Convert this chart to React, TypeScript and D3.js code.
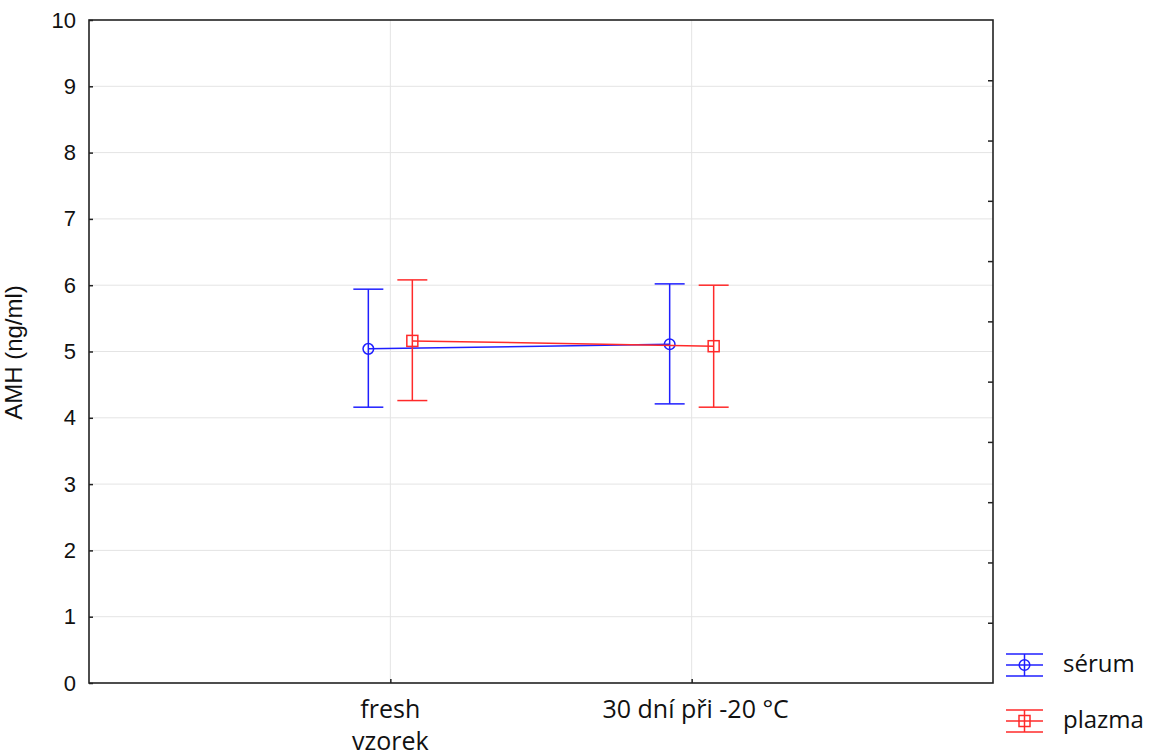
import { useEffect, useRef } from 'react';
import * as d3 from 'd3';

// category labels (multi-line)
const categories = ['fresh', '30dni'];
const categoryLines = [['fresh', 'vzorek'], ['30 dní při -20 °C']];

// means with error bar bounds
const serumMean = [5.04, 5.11];
const serumLow = [4.16, 4.21];
const serumHigh = [5.94, 6.02];

const plazmaMean = [5.16, 5.08];
const plazmaLow = [4.26, 4.16];
const plazmaHigh = [6.08, 6.0];

const yTicks = [0, 1, 2, 3, 4, 5, 6, 7, 8, 9, 10];
const rightTicks = [1, 2, 3, 4, 5, 6, 7, 8, 9, 10];

const seriesNames = ['sérum', 'plazma'];

export default function App() {
  const svgRef = useRef<SVGSVGElement>(null);

  useEffect(() => {
    const svg = d3.select(svgRef.current);
    svg.selectAll('*').remove();

    const margin = { top: 20, right: 157, bottom: 72, left: 89 };
    const W = 1150, H = 755;
    const width = W - margin.left - margin.right;
    const height = H - margin.top - margin.bottom;

    const g = svg.append('g').attr('transform', `translate(${margin.left},${margin.top})`);

    const x = d3.scalePoint<string>().domain(categories).range([0, width]).padding(1);
    const y = d3.scaleLinear().domain([0, 10]).range([height, 0]);
    const yRight = d3.scaleLinear().domain([0, 11]).range([height, 0]);

    // grid
    g.selectAll('.hgrid')
      .data(yTicks.slice(1, -1))
      .enter().append('line')
      .attr('x1', 0).attr('x2', width)
      .attr('y1', d => y(d)).attr('y2', d => y(d))
      .attr('stroke', '#e4e4e4').attr('stroke-width', 1);
    g.selectAll('.vgrid')
      .data(categories)
      .enter().append('line')
      .attr('x1', d => x(d)!).attr('x2', d => x(d)!)
      .attr('y1', 0).attr('y2', height)
      .attr('stroke', '#e4e4e4').attr('stroke-width', 1);

    // left axis
    const left = g.append('g')
      .call(d3.axisLeft(y).tickValues(yTicks).tickSize(-4).tickPadding(13).tickFormat(d3.format('d')));
    left.select('.domain').remove();
    left.selectAll('line').attr('stroke', '#222').attr('stroke-width', 1.5);
    left.selectAll('text')
      .style('font-family', '"Liberation Sans", Arial, sans-serif')
      .style('font-size', '22px')
      .attr('fill', '#111');

    // right axis, unlabeled ticks
    const right = g.append('g').attr('transform', `translate(${width},0)`)
      .call(d3.axisRight(yRight).tickValues(rightTicks).tickSize(-5).tickFormat(() => ''));
    right.select('.domain').remove();
    right.selectAll('line').attr('stroke', '#222').attr('stroke-width', 1.5);

    // bottom axis
    const bottom = g.append('g').attr('transform', `translate(0,${height})`)
      .call(d3.axisBottom(x).tickSize(-4).tickFormat(() => ''));
    bottom.select('.domain').remove();
    bottom.selectAll('line').attr('stroke', '#222').attr('stroke-width', 1.5);

    categories.forEach((c, i) => {
      const t = g.append('text')
        .attr('x', x(c)!)
        .attr('y', height + 35)
        .attr('text-anchor', 'middle')
        .style('font-family', '"Open Sans", sans-serif')
        .style('font-size', '25px')
        .attr('fill', '#111');
      categoryLines[i].forEach((line, j) => {
        t.append('tspan').attr('x', x(c)! + (i === 1 ? 4 : 0)).attr('dy', j === 0 ? 0 : 32).text(line);
      });
    });

    // frame
    g.append('rect')
      .attr('width', width).attr('height', height)
      .attr('fill', 'none').attr('stroke', '#222').attr('stroke-width', 1.6);

    // y label
    g.append('text')
      .attr('transform', `translate(${-67},${height / 2 + 1}) rotate(-90)`)
      .attr('text-anchor', 'middle')
      .style('font-family', '"Liberation Sans", Arial, sans-serif')
      .style('font-size', '24px')
      .attr('fill', '#111')
      .text('AMH (ng/ml)');

    const series = [
      { name: seriesNames[0], mean: serumMean, low: serumLow, high: serumHigh, color: '#1f1fff', offset: -22, shape: 'circle' },
      { name: seriesNames[1], mean: plazmaMean, low: plazmaLow, high: plazmaHigh, color: '#ff2a2a', offset: 22, shape: 'square' },
    ];

    const capHalf = 15;
    const drawMarker = (sel: any, shape: string, cx: number, cy: number, color: string) => {
      if (shape === 'circle') {
        sel.append('circle').attr('cx', cx).attr('cy', cy).attr('r', 5.3)
          .attr('fill', 'none').attr('stroke', color).attr('stroke-width', 1.5);
      } else {
        sel.append('rect').attr('x', cx - 5.5).attr('y', cy - 5.5).attr('width', 11).attr('height', 11)
          .attr('fill', 'none').attr('stroke', color).attr('stroke-width', 1.5);
      }
    };

    series.forEach(s => {
      const sg = g.append('g');
      const px = (i: number) => x(categories[i])! + s.offset;
      // connecting line
      const line = d3.line<number>().x((_, i) => px(i)).y(d => y(d));
      sg.append('path').datum(s.mean).attr('d', line)
        .attr('fill', 'none').attr('stroke', s.color).attr('stroke-width', 1.5);
      s.mean.forEach((m, i) => {
        const cx = px(i);
        sg.append('line').attr('x1', cx).attr('x2', cx).attr('y1', y(s.low[i])).attr('y2', y(s.high[i]))
          .attr('stroke', s.color).attr('stroke-width', 1.5);
        [s.low[i], s.high[i]].forEach(v => {
          sg.append('line').attr('x1', cx - capHalf).attr('x2', cx + capHalf).attr('y1', y(v)).attr('y2', y(v))
            .attr('stroke', s.color).attr('stroke-width', 1.5);
        });
        drawMarker(sg, s.shape, cx, y(m), s.color);
      });
    });

    // legend
    const legend = svg.append('g').attr('transform', 'translate(1006,665)');
    series.forEach((s, i) => {
      const lg = legend.append('g').attr('transform', `translate(0,${i * 56})`);
      [-11, 0, 11].forEach(dy => {
        lg.append('line').attr('x1', 0).attr('x2', 37).attr('y1', dy).attr('y2', dy)
          .attr('stroke', s.color).attr('stroke-width', 1.5);
      });
      lg.append('line').attr('x1', 18.5).attr('x2', 18.5).attr('y1', -11).attr('y2', 11)
        .attr('stroke', s.color).attr('stroke-width', 1.5);
      drawMarker(lg, s.shape, 18.5, 0, s.color);
      lg.append('text').attr('x', 57).attr('y', 7)
        .style('font-family', '"Open Sans", sans-serif')
        .style('font-size', '24px')
        .attr('fill', '#111')
        .text(s.name);
    });
  }, []);

  return (
    <svg ref={svgRef} width={1150} height={755}
      style={{ position: 'absolute', left: 0, top: 0, background: '#fff' }} />
  );
}
